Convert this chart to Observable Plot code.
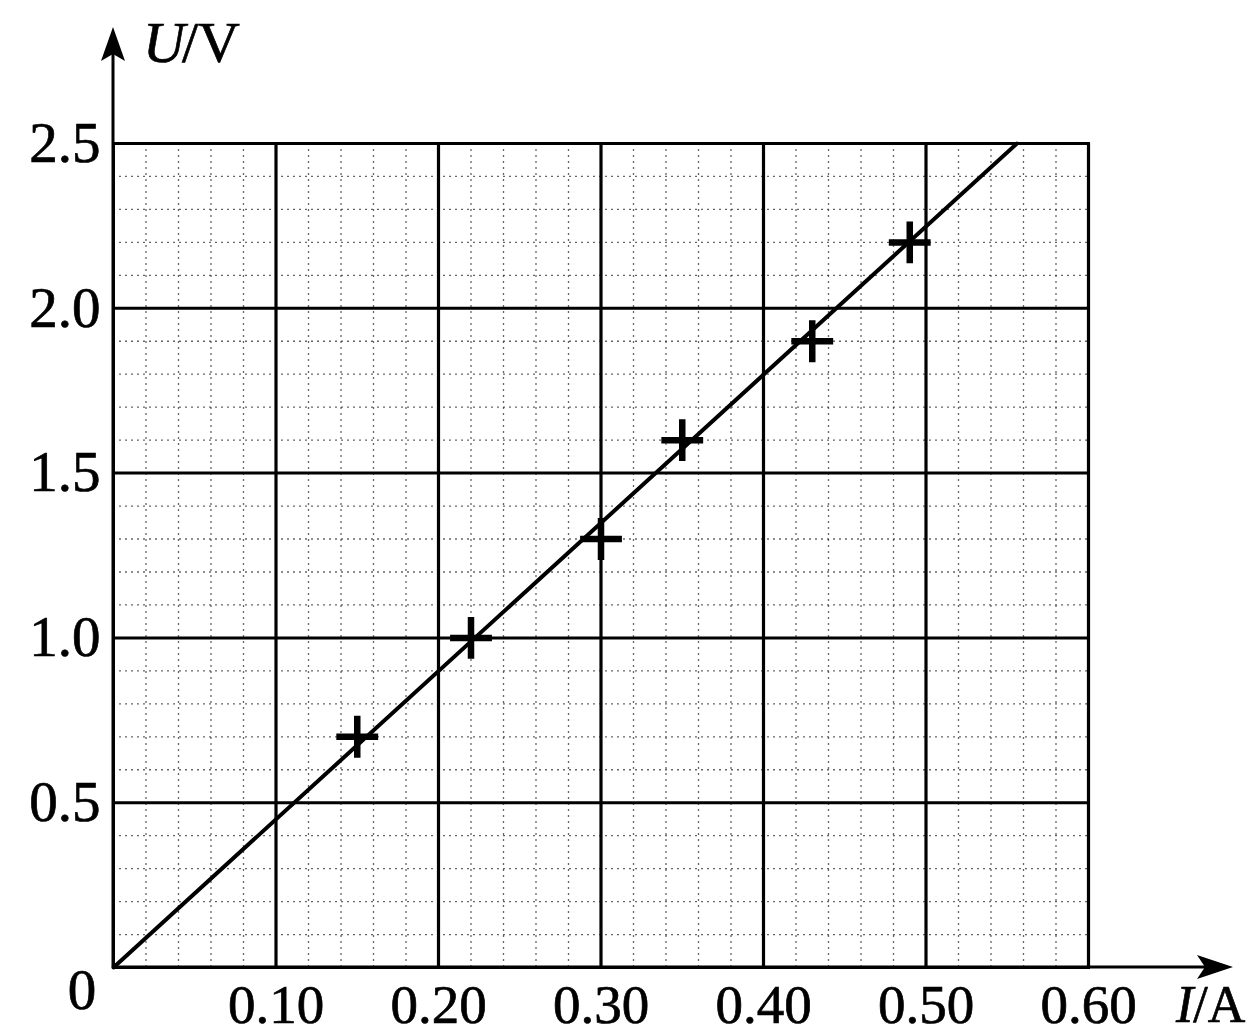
<!DOCTYPE html>
<html><head><meta charset="utf-8">
<script src="https://cdn.jsdelivr.net/npm/d3@7"></script>
<script src="https://cdn.jsdelivr.net/npm/@observablehq/plot@0.6"></script>
<style>body{margin:0;background:#fff;} #chart{width:1254px;height:1036px;overflow:hidden;} #chart svg text{stroke:#000;stroke-width:0.7px;}</style>
</head><body><div id="chart"></div>
<script>
// measured points: current I (A), voltage U (V)
const currentA = [0.15, 0.22, 0.30, 0.35, 0.43, 0.49];
const voltageV = [0.70, 1.00, 1.30, 1.60, 1.90, 2.20];
// fitted straight line through the origin
const fitI = [0, 0.556];
const fitU = [0, 2.5];
// tick labels
const xTicks = [0.10, 0.20, 0.30, 0.40, 0.50, 0.60];
const yTicks = [0.5, 1.0, 1.5, 2.0, 2.5];
const xLabel = ["I", "/A"];
const yLabel = ["U", "/V"];
const originLabel = "0";

const points = currentA.map((I, i) => ({I, U: voltageV[i]}));
const fit = fitI.map((I, i) => ({I, U: fitU[i]}));

const FONT = "'Liberation Serif', 'DejaVu Serif', serif";
const FS = 57;
const FSX = 55;

function axesArrows(index, scales, values, dim) {
  const g = d3.create("svg:g");
  const x0 = scales.x(0), y0 = scales.y(0);
  const xEnd = dim.width - 21, yEnd = 27;
  g.append("line").attr("x1", x0).attr("y1", y0).attr("x2", xEnd - 20).attr("y2", y0)
    .attr("stroke", "black").attr("stroke-width", 3);
  g.append("line").attr("x1", x0).attr("y1", y0).attr("x2", x0).attr("y2", yEnd + 20)
    .attr("stroke", "black").attr("stroke-width", 3);
  g.append("path").attr("d", `M${xEnd},${y0} L${xEnd-36},${y0-12} L${xEnd-28},${y0} L${xEnd-36},${y0+12} Z`).attr("fill", "black");
  g.append("path").attr("d", `M${x0},${yEnd} L${x0-12},${yEnd+34} L${x0},${yEnd+27} L${x0+12},${yEnd+34} Z`).attr("fill", "black");
  // axis titles
  const ty = g.append("text").attr("x", x0 + 30).attr("y", 62).attr("text-anchor", "start")
    .attr("font-family", FONT).attr("font-size", 58);
  ty.append("tspan").attr("font-style", "italic").text(yLabel[0]);
  ty.append("tspan").attr("dx", -3).text(yLabel[1]);
  const tx = g.append("text").attr("x", 1176).attr("y", 1022).attr("text-anchor", "start")
    .attr("font-family", FONT).attr("font-size", 52);
  tx.append("tspan").attr("font-style", "italic").text(xLabel[0]);
  tx.append("tspan").text(xLabel[1]);
  // origin label
  g.append("text").attr("x", x0 - 31).attr("y", y0 + 42).attr("text-anchor", "middle")
    .attr("font-family", FONT).attr("font-size", FS).text(originLabel);
  return g.node();
}

const chart = Plot.plot({
  width: 1254,
  height: 1036,
  marginLeft: 113,
  marginRight: 166,
  marginTop: 143,
  marginBottom: 69,
  style: {fontFamily: FONT, fontSize: FS + "px", background: "#fff", color: "black", overflow: "visible"},
  x: {domain: [0, 0.6], label: null},
  y: {domain: [0, 2.5], label: null},
  marks: [
    Plot.gridX({interval: 0.02, stroke: "#333", strokeOpacity: 0.75, strokeWidth: 1.3, strokeDasharray: "2,4"}),
    Plot.gridY({interval: 0.1, stroke: "#333", strokeOpacity: 0.75, strokeWidth: 1.3, strokeDasharray: "2,4"}),
    Plot.gridX({ticks: xTicks, stroke: "black", strokeOpacity: 1, strokeWidth: 3.2}),
    Plot.gridY({ticks: yTicks, stroke: "black", strokeOpacity: 1, strokeWidth: 3}),
    Plot.frame({stroke: "black", strokeWidth: 3}),
    Plot.axisX({ticks: xTicks, tickFormat: d3.format(".2f"), tickSize: 0, tickPadding: 16, fontSize: FSX, label: null}),
    Plot.axisY({ticks: yTicks, tickFormat: d3.format(".1f"), tickSize: 0, tickPadding: 13, fontSize: FS, label: null}),
    Plot.line(fit, {x: "I", y: "U", stroke: "black", strokeWidth: 4}),
    Plot.dot(points, {x: "I", y: "U", symbol: "plus", r: 13.5, stroke: "black", strokeWidth: 6.5}),
    axesArrows
  ]
});
document.getElementById("chart").append(chart);
</script>
</body></html>
